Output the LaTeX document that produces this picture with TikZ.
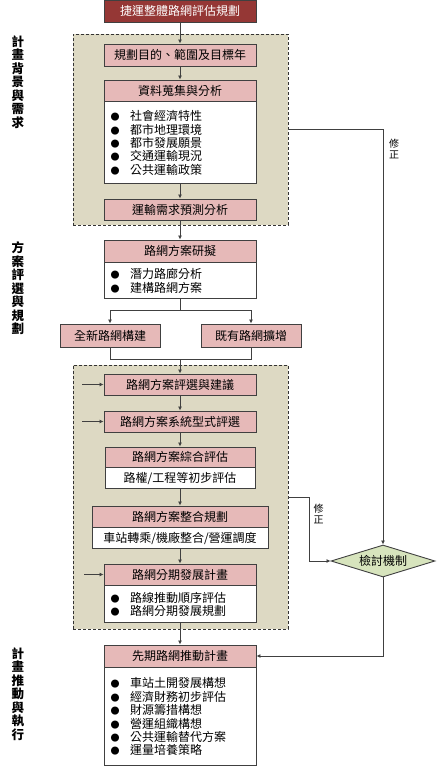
\documentclass[tikz,border=0pt]{standalone}
\usepackage{fontspec}
\setmainfont{Noto Sans CJK TC}
\usetikzlibrary{arrows.meta,shapes.geometric,calc}
\definecolor{titlered}{HTML}{953735}
\definecolor{pinkhdr}{HTML}{E6B9B8}
\definecolor{bgbeige}{HTML}{DDD9C3}
\definecolor{diamondc}{HTML}{D7E4BD}
\newcommand{\bu}{{\fontsize{9}{9}\selectfont ●}\hspace{10.5pt}}
\begin{document}
\begin{tikzpicture}[x=1pt,y=-1pt,
  box/.style={draw=black!75, line width=0.9pt, inner sep=0pt, font=\fontsize{12}{14}\selectfont},
  hdr/.style={box, fill=pinkhdr, minimum height=21pt},
  plain/.style={box, fill=white},
  lst/.style={box, fill=white, align=left, text width=139pt, inner xsep=6.5pt, minimum width=152pt, font=\fontsize{12}{13.4}\selectfont},
  bgbox/.style={draw=black!80, dash pattern=on 3pt off 2pt, fill=bgbeige, line width=0.8pt, inner sep=0pt},
  conn/.style={draw=black!75, line width=0.9pt},
  arr/.style={conn, -{Latex[length=4pt,width=4pt]}},
  side/.style={font=\bfseries\fontsize{12.5}{13.5}\selectfont, align=center, inner sep=0pt},
  fix/.style={font=\fontsize{10}{11}\selectfont, align=center, inner sep=0pt},
]
\useasboundingbox (0,0) rectangle (437,768);

% background dashed groups
\node[bgbox, minimum width=215pt, minimum height=191pt] (bgA) at (180.5,129.5) {};
\node[bgbox, minimum width=215pt, minimum height=264pt] (bgB) at (180.5,497) {};

% side labels
\node[side] (L1) at (18,82) {計\\畫\\背\\景\\與\\需\\求};
\node[side] (L2) at (18,288.5) {方\\案\\評\\選\\與\\規\\劃};
\node[side] (L3) at (18,694) {計\\畫\\推\\動\\與\\執\\行};

% main boxes
\node[box, fill=titlered, text=white, minimum width=152pt, minimum height=22pt] (title) at (180,11) {捷運整體路網評估規劃};
\node[hdr, minimum width=152pt, minimum height=22pt] (a1) at (180,55) {規劃目的、範圍及目標年};
\node[hdr, minimum width=152pt] (a2) at (180,90.5) {資料蒐集與分析};
\node[lst, minimum height=82pt, anchor=north] (a2l) at (a2.south) {\bu 社會經濟特性\\\bu 都市地理環境\\\bu 都市發展願景\\\bu 交通運輸現況\\\bu 公共運輸政策};
\node[hdr, minimum width=152pt] (a3) at (180,209.5) {運輸需求預測分析};

\node[hdr, minimum width=152pt, minimum height=22pt] (b1) at (180,251) {路網方案研擬};
\node[lst, minimum height=36pt, anchor=north] (b1l) at (b1.south) {\bu 潛力路廊分析\\\bu 建構路網方案};
\node[hdr, minimum width=100pt, minimum height=23pt] (b2) at (110,335.5) {全新路網構建};
\node[hdr, minimum width=100pt, minimum height=23pt] (b3) at (251,335.5) {既有路網擴增};

\node[hdr, minimum width=152pt] (c1) at (180,384.5) {路網方案評選與建議};
\node[hdr, minimum width=152pt] (c2) at (180,421.5) {路網方案系統型式評選};
\node[hdr, minimum width=150pt, minimum height=20pt] (c3) at (180,457) {路網方案綜合評估};
\node[plain, minimum width=150pt, minimum height=21pt, anchor=north] (c3w) at (c3.south) {路權/工程等初步評估};
\node[hdr, minimum width=176pt] (c4) at (180,516.5) {路網方案整合規劃};
\node[plain, minimum width=176pt, minimum height=21pt, anchor=north] (c4w) at (c4.south) {車站轉乘/機廠整合/營運調度};
\node[hdr, minimum width=152pt] (c5) at (180,574.5) {路網分期發展計畫};
\node[lst, minimum height=37pt, anchor=north] (c5l) at (c5.south) {\bu 路線推動順序評估\\\bu 路網分期發展規劃};

\node[hdr, minimum width=152pt, minimum height=22pt] (d1) at (180,656) {先期路網推動計畫};
\node[lst, minimum height=98pt, anchor=north] (d1l) at (d1.south) {\bu 車站土開發展構想\\\bu 經濟財務初步評估\\\bu 財源籌措構想\\\bu 營運組織構想\\\bu 公共運輸替代方案\\\bu 運量培養策略};

\node[diamond, aspect=3.25, draw=black!75, line width=0.9pt, fill=diamondc, minimum width=104pt, minimum height=32pt, inner sep=0pt, font=\fontsize{12}{14}\selectfont] (chk) at (383,561) {檢討機制};

% labels 修正
\node[fix] (f1) at (394,149) {修\\正};
\node[fix] (f2) at (318.5,514) {修\\正};

% connectors
\draw[arr] (title) -- (a1);
\draw[arr] (a1) -- (a2);
\draw[arr] (a2l) -- (a3);
\draw[arr] (a3) -- (b1);
\coordinate (sp) at (180,310);
\draw[conn] (b1l.south) -- (sp);
\draw[arr] (sp) -| (b2.north);
\draw[arr] (sp) -| (b3.north);
\coordinate (mg) at (180,359);
\draw[conn] (b2.south) |- (mg);
\draw[conn] (b3.south) |- (mg);
\draw[arr] (mg) -- (c1.north);
\draw[arr] (c1) -- (c2);
\draw[arr] (c2) -- (c3);
\draw[arr] (c3w) -- (c4);
\draw[arr] (c4w) -- (c5);
\draw[arr] (c5l) -- (d1);

\coordinate (s1) at (82,384.5);
\coordinate (s2) at (82,421.5);
\coordinate (s3) at (84,574.5);
\draw[arr] (s1) -- (c1.west);
\draw[arr] (s2) -- (c2.west);
\draw[arr] (s3) -- (c5.west);

\coordinate (r0) at (288,129);
\draw[arr] (r0) -- (r0 -| chk.north) -- (chk.north);
\coordinate (q0) at (288,497);
\coordinate (q1) at (309,497);
\draw[arr] (q0) -- (q1) |- (chk.west);
\draw[arr] (chk.south) |- (d1.east);
\end{tikzpicture}
\end{document}
